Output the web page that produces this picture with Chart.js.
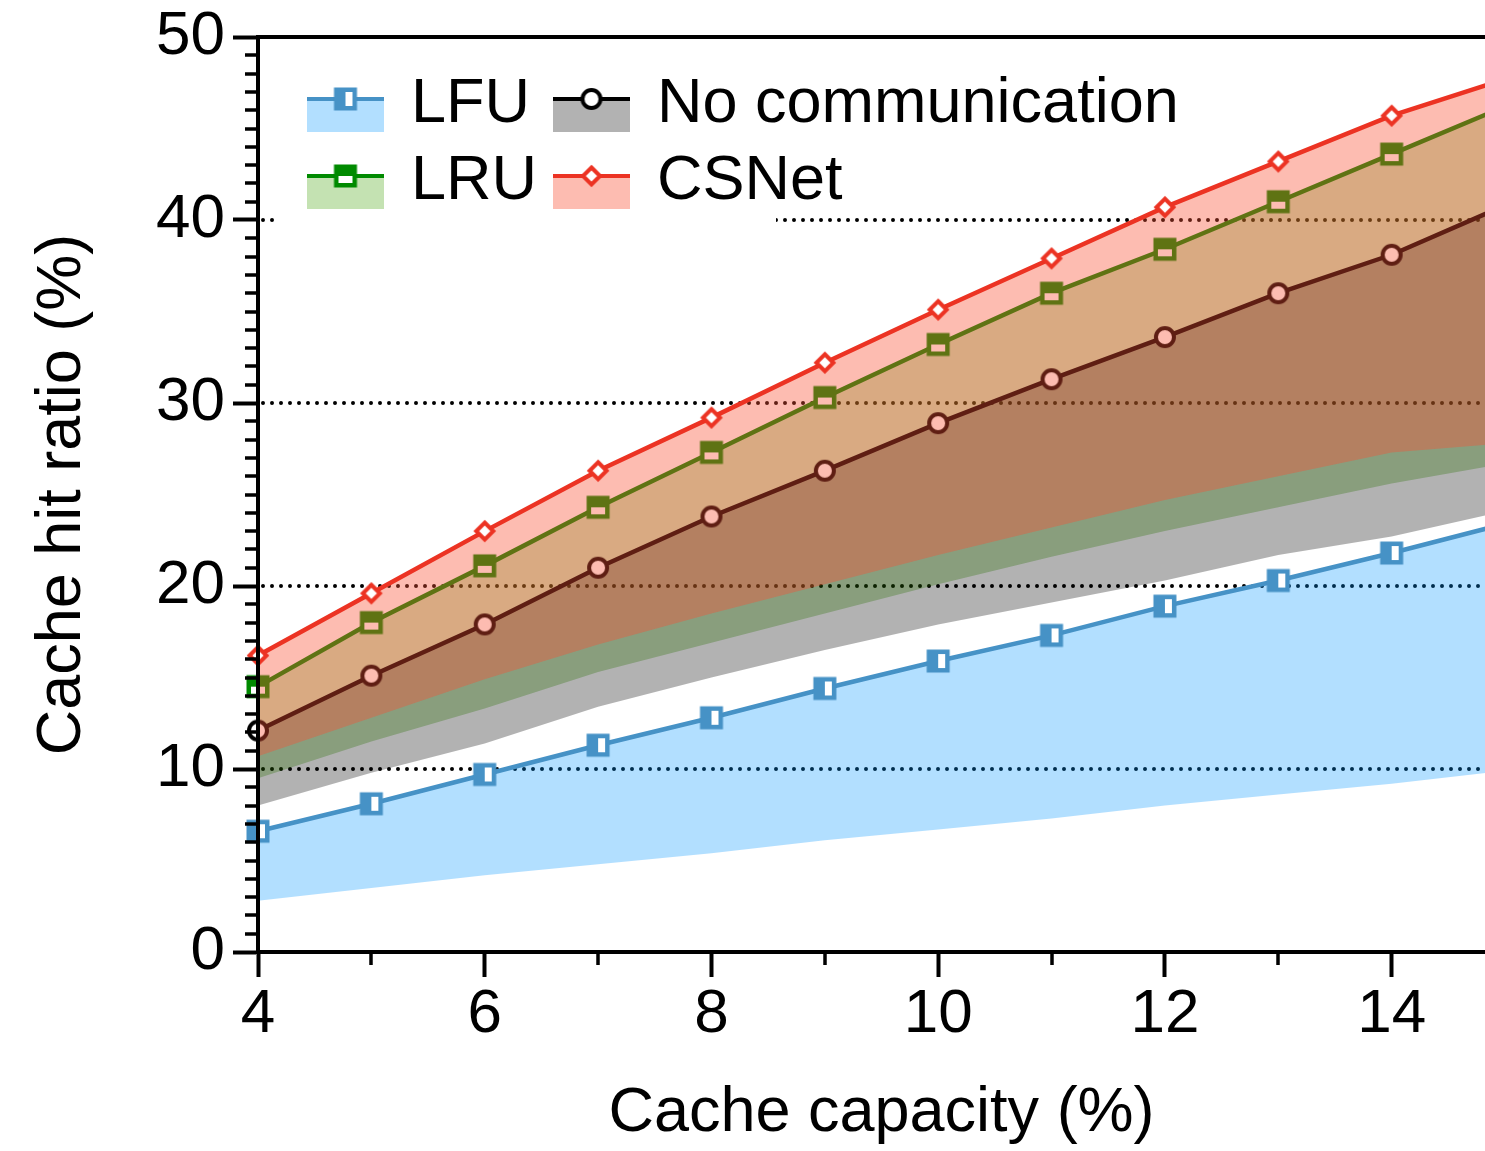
<!DOCTYPE html>
<html>
<head>
<meta charset="utf-8">
<title>Cache hit ratio</title>
<script src="https://cdn.jsdelivr.net/npm/chart.js@4.4.1/dist/chart.umd.min.js"></script>
<style>
  html, body { margin: 0; padding: 0; background: #fff; overflow: hidden; }
  #wrap { width: 1485px; height: 1151px; overflow: hidden; }
</style>
</head>
<body>
<div id="wrap"><canvas id="hitChart" width="1506" height="1151"></canvas></div>
<script>
// cache capacity (%) on the x axis
const capacity = [4, 5, 6, 7, 8, 9, 10, 11, 12, 13, 14, 15];

// mean hit ratio (%) and lower edge of each shaded band
const lfuHit    = [6.6, 8.1, 9.7, 11.3, 12.8, 14.4, 15.9, 17.3, 18.9, 20.3, 21.8, 23.4];
const lfuLow    = [2.8, 3.5, 4.2, 4.8, 5.4, 6.1, 6.7, 7.3, 8.0, 8.6, 9.2, 9.9];
const lruHit    = [14.5, 18.0, 21.1, 24.3, 27.3, 30.3, 33.2, 36.0, 38.4, 41.0, 43.6, 46.2];
const lruLow    = [9.5, 11.5, 13.3, 15.3, 16.9, 18.5, 20.1, 21.6, 23.0, 24.3, 25.6, 26.7];
const noCommHit = [12.1, 15.1, 17.9, 21.0, 23.8, 26.3, 28.9, 31.3, 33.6, 36.0, 38.1, 40.8];
const noCommLow = [8.0, 9.8, 11.4, 13.4, 15.0, 16.5, 17.9, 19.1, 20.3, 21.7, 22.7, 24.1];
const csnetHit  = [16.2, 19.6, 23.0, 26.3, 29.2, 32.2, 35.1, 37.9, 40.7, 43.2, 45.7, 47.7];
const csnetLow  = [10.7, 12.8, 14.9, 16.8, 18.5, 20.1, 21.7, 23.2, 24.7, 26.0, 27.3, 27.8];

const gridValues = [10, 20, 30, 40];

const fontFamily = "'Liberation Sans', Arial, Helvetica, sans-serif";
Chart.defaults.font.family = fontFamily;
Chart.defaults.color = '#000';

const colors = {
    lfu: '#4692c6', lfuFill: 'rgba(0, 150, 255, 0.3)',
    lru: '#008a00', lruFill: 'rgba(60, 160, 0, 0.3)',
    noComm: '#000000', noCommFill: 'rgba(0, 0, 0, 0.3)',
    csnet: '#ec3323', csnetFill: 'rgba(250, 80, 50, 0.38)'
};

// marker images (half filled squares, open circle, open diamond)
function makeMarker(shape, color) {
    const c = document.createElement('canvas');
    c.width = 30; c.height = 30;
    const g = c.getContext('2d');
    const m = 15;
    g.strokeStyle = color;
    g.fillStyle = '#ffffff';
    if (shape === 'circle') {
        g.lineWidth = 4;
        g.beginPath(); g.arc(m, m, 9, 0, Math.PI * 2); g.fill(); g.stroke();
    } else if (shape === 'diamond') {
        g.lineWidth = 4; g.lineJoin = 'miter';
        g.beginPath();
        g.moveTo(m, m - 8.5); g.lineTo(m + 8.5, m); g.lineTo(m, m + 8.5); g.lineTo(m - 8.5, m);
        g.closePath(); g.fill(); g.stroke();
    } else {
        const h = 9.25;
        g.lineWidth = 4.5;
        g.fillRect(m - h, m - h, 2 * h, 2 * h);
        g.fillStyle = color;
        if (shape === 'squareLeft') g.fillRect(m - h, m - h, h, 2 * h);
        else g.fillRect(m - h, m - h, 2 * h, h);
        g.strokeRect(m - h, m - h, 2 * h, 2 * h);
    }
    return c;
}

const markers = {
    lfu: makeMarker('squareLeft', colors.lfu),
    lru: makeMarker('squareTop', colors.lru),
    noComm: makeMarker('circle', colors.noComm),
    csnet: makeMarker('diamond', colors.csnet)
};

function toPoints(values) {
    return capacity.map((c, i) => ({ x: c, y: values[i] }));
}

function lowerSet(values) {
    return {
        data: toPoints(values),
        borderColor: 'rgba(0,0,0,0)',
        borderWidth: 0,
        pointRadius: 0,
        pointHoverRadius: 0,
        fill: false,
        order: 20
    };
}

function mainSet(label, values, color, fillColor, marker, target, order) {
    return {
        label: label,
        data: toPoints(values),
        borderColor: color,
        borderWidth: 4.5,
        backgroundColor: fillColor,
        fill: { target: target, above: fillColor, below: fillColor },
        pointStyle: marker,
        pointRadius: 11,
        pointHoverRadius: 11,
        tension: 0,
        clip: false,
        order: order
    };
}

const legendItems = [
    { label: 'LFU', color: colors.lfu, fill: colors.lfuFill, marker: markers.lfu, x: 307, y: 99 },
    { label: 'LRU', color: colors.lru, fill: colors.lruFill, marker: markers.lru, x: 307, y: 176 },
    { label: 'No communication', color: colors.noComm, fill: colors.noCommFill, marker: markers.noComm, x: 553, y: 99 },
    { label: 'CSNet', color: colors.csnet, fill: colors.csnetFill, marker: markers.csnet, x: 553, y: 176 }
];

const framePlugin = {
    id: 'frame',
    beforeDatasetsDraw(chart) {
        const { ctx, chartArea: a, scales: { y } } = chart;
        ctx.save();
        ctx.strokeStyle = '#000';
        ctx.lineWidth = 4;
        ctx.lineCap = 'round';
        ctx.setLineDash([0, 9]);
        gridValues.forEach(v => {
            const py = Math.round(y.getPixelForValue(v));
            ctx.beginPath();
            ctx.moveTo(a.left + 5, py);
            ctx.lineTo(a.right, py);
            ctx.stroke();
        });
        ctx.restore();
    },
    afterDatasetsDraw(chart) {
        const { ctx, chartArea: a, scales: { x, y } } = chart;
        ctx.save();
        ctx.strokeStyle = '#000';
        // minor ticks
        ctx.lineWidth = 3.5;
        for (let v = 1; v < 50; v++) {
            if (v % 10 === 0) continue;
            const py = Math.round(y.getPixelForValue(v));
            ctx.beginPath(); ctx.moveTo(a.left - 13, py); ctx.lineTo(a.left, py); ctx.stroke();
        }
        for (let v = 5; v <= 15; v += 2) {
            const px = Math.round(x.getPixelForValue(v));
            ctx.beginPath(); ctx.moveTo(px, a.bottom); ctx.lineTo(px, a.bottom + 13); ctx.stroke();
        }
        // spines over the markers
        ctx.lineWidth = 4;
        ctx.beginPath();
        ctx.moveTo(a.left, a.top - 2); ctx.lineTo(a.left, a.bottom + 2);
        ctx.moveTo(a.left - 2, a.top); ctx.lineTo(a.right, a.top);
        ctx.moveTo(a.left - 2, a.bottom); ctx.lineTo(a.right, a.bottom);
        ctx.stroke();
        ctx.restore();
    },
    afterDraw(chart) {
        const ctx = chart.ctx;
        ctx.save();
        ctx.fillStyle = '#ffffff';
        ctx.fillRect(276, 42, 500, 188);
        legendItems.forEach(item => {
            ctx.fillStyle = item.fill;
            ctx.fillRect(item.x, item.y - 2, 77, 35);
            ctx.strokeStyle = item.color;
            ctx.lineWidth = 4;
            ctx.beginPath();
            ctx.moveTo(item.x, item.y);
            ctx.lineTo(item.x + 77, item.y);
            ctx.stroke();
            ctx.drawImage(item.marker, item.x + 38.5 - 15, item.y - 15);
            ctx.fillStyle = '#000';
            ctx.font = '63px ' + fontFamily;
            ctx.textBaseline = 'alphabetic';
            ctx.textAlign = 'left';
            ctx.fillText(item.label, item.x + 104, item.y + 23);
        });
        ctx.restore();
    }
};

const ctx = document.getElementById('hitChart').getContext('2d');
new Chart(ctx, {
    type: 'line',
    data: {
        datasets: [
            lowerSet(lfuLow),
            mainSet('LFU', lfuHit, colors.lfu, colors.lfuFill, markers.lfu, 0, 4),
            lowerSet(lruLow),
            mainSet('LRU', lruHit, colors.lru, colors.lruFill, markers.lru, 2, 3),
            lowerSet(noCommLow),
            mainSet('No communication', noCommHit, colors.noComm, colors.noCommFill, markers.noComm, 4, 2),
            lowerSet(csnetLow),
            mainSet('CSNet', csnetHit, colors.csnet, colors.csnetFill, markers.csnet, 6, 1)
        ]
    },
    options: {
        responsive: false,
        devicePixelRatio: 1,
        animation: false,
        layout: { autoPadding: false, padding: { top: 37, right: 1, left: 0, bottom: 0 } },
        plugins: {
            legend: { display: false },
            tooltip: { enabled: false }
        },
        scales: {
            x: {
                type: 'linear',
                min: 4,
                max: 15,
                afterFit(scale) {
                    scale.height = 199;
                    scale.paddingLeft = 0;
                    scale.paddingRight = 0;
                },
                ticks: { stepSize: 2, includeBounds: false, padding: 1, font: { size: 62 }, color: '#000' },
                grid: { drawOnChartArea: false, drawTicks: true, tickLength: 25, tickWidth: 4, tickColor: '#000' },
                border: { display: true, color: '#000', width: 4 },
                title: { display: true, text: 'Cache capacity (%)', font: { size: 63 }, color: '#000', padding: { top: 0, bottom: 0 } }
            },
            y: {
                min: 0,
                max: 50,
                afterFit(scale) {
                    scale.width = 258;
                    scale.paddingTop = 0;
                    scale.paddingBottom = 0;
                },
                ticks: { stepSize: 10, padding: 8, font: { size: 62 }, color: '#000' },
                grid: { drawOnChartArea: false, drawTicks: true, tickLength: 25, tickWidth: 4, tickColor: '#000' },
                border: { display: true, color: '#000', width: 4 },
                title: { display: true, text: 'Cache hit ratio (%)', font: { size: 63 }, color: '#000', padding: { top: 25, bottom: 0 } }
            }
        }
    },
    plugins: [framePlugin]
});
</script>
</body>
</html>
